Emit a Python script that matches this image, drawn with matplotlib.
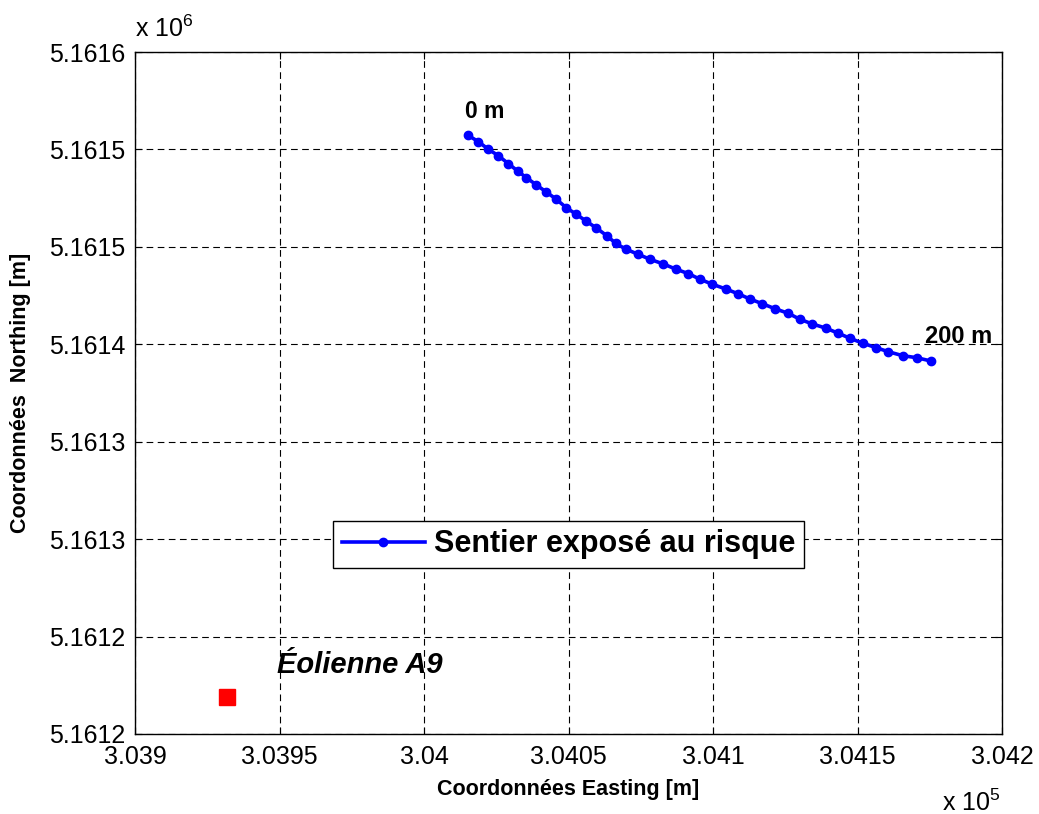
import matplotlib
matplotlib.use("Agg")
import matplotlib.pyplot as plt
from matplotlib.ticker import FuncFormatter
import numpy as np

# Police proche de Helvetica (style MATLAB)
plt.rcParams['font.family'] = ['Liberation Sans', 'DejaVu Sans']
plt.rcParams['mathtext.fontset'] = 'custom'
plt.rcParams['mathtext.rm'] = 'Liberation Sans'

# Sentier exposé au risque (un point tous les 5 m, de 0 m à 200 m)
sentier_x = [304015.3, 304018.8, 304022.3, 304025.7, 304029.2, 304032.4, 304035.4,
             304038.9, 304042.3, 304045.8, 304049.2, 304052.7, 304056.2, 304059.6,
             304063.2, 304066.4, 304069.9, 304074.2, 304078.2, 304082.8, 304087.2,
             304091.5, 304095.5, 304099.6, 304104.4, 304108.7, 304112.8, 304117.0,
             304121.5, 304126.1, 304130.1, 304134.2, 304139.1, 304143.4, 304147.4,
             304151.8, 304156.4, 304160.7, 304165.6, 304170.5, 304175.3]
sentier_y = [5161521.1, 5161517.4, 5161512.9, 5161509.2, 5161504.5, 5161500.2, 5161496.3,
             5161492.0, 5161487.9, 5161483.6, 5161478.7, 5161474.8, 5161470.7, 5161466.8,
             5161462.3, 5161457.7, 5161454.3, 5161451.3, 5161448.4, 5161445.7, 5161442.6,
             5161440.0, 5161436.7, 5161433.9, 5161431.0, 5161428.2, 5161425.1, 5161422.4,
             5161419.4, 5161416.7, 5161413.2, 5161410.6, 5161408.0, 5161405.0, 5161402.1,
             5161399.2, 5161396.6, 5161394.2, 5161391.9, 5161390.7, 5161388.8]

# Éolienne
eolienne_x = [303931.7]
eolienne_y = [5161191.5]

# Limites et graduations
XLIM = (303900, 304200)
YLIM = (5161170, 5161570)
x_ticks = np.arange(303900, 304201, 50)
y_ticks = np.linspace(YLIM[0], YLIM[1], 8)

fig = plt.figure(figsize=(10.39, 8.14), dpi=100)
ax = fig.add_axes([0.130, 0.0983, 0.8344, 0.8378])

ax.plot(sentier_x, sentier_y, color='#0000ff', linewidth=2.6, marker='o',
        markersize=6, label='Sentier exposé au risque', zorder=3)
ax.plot(eolienne_x, eolienne_y, linestyle='none', marker='s', markersize=12,
        color='#ff0000', zorder=3)

# Annotations
ax.text(304014.2, 5161531.3, '0 m', fontsize=16.5, fontweight='bold',
        ha='left', va='baseline')
ax.text(304173.4, 5161399.3, '200 m', fontsize=17, fontweight='bold',
        ha='left', va='baseline', clip_on=False)
ax.text(303949.0, 5161205.8, 'Éolienne A9', fontsize=21, fontweight='bold',
        fontstyle='italic', ha='left', va='baseline')

ax.set_xlim(XLIM)
ax.set_ylim(YLIM)
ax.set_xticks(x_ticks)
ax.set_yticks(y_ticks)
ax.xaxis.set_major_formatter(FuncFormatter(lambda v, p: f"{v / 1e5:.5g}"))
ax.yaxis.set_major_formatter(FuncFormatter(lambda v, p: f"{v / 1e6:.5g}"))
ax.tick_params(axis='both', direction='in', length=5, width=0.8,
               top=True, right=True, labelsize=18)
ax.tick_params(axis='x', pad=8)
ax.tick_params(axis='y', pad=7)

ax.grid(True, color='black', linestyle=(0, (6, 4)), linewidth=0.8)
ax.set_axisbelow(True)
for s in ax.spines.values():
    s.set_linewidth(1.0)

ax.set_xlabel('Coordonnées Easting [m]', fontsize=15.5, fontweight='bold', labelpad=7)
ax.set_ylabel('Coordonnées  Northing [m]', fontsize=15.5, fontweight='bold', labelpad=13)

# Facteurs d'échelle (style MATLAB)
fig.text(0.130, 0.9545, r'x 10$^{6}$', fontsize=18, ha='left', va='baseline')
fig.text(0.9066, 0.004, r'x 10$^{5}$', fontsize=18, ha='left', va='baseline')

leg = ax.legend(loc='center', bbox_to_anchor=(0.5, 0.278),
                prop={'size': 22, 'weight': 'bold'}, fancybox=False,
                edgecolor='black', framealpha=1, borderpad=0.28,
                handlelength=2.7, handletextpad=0.3, borderaxespad=0)
leg.get_frame().set_linewidth(1.0)

fig.savefig('out.png', dpi=100)
